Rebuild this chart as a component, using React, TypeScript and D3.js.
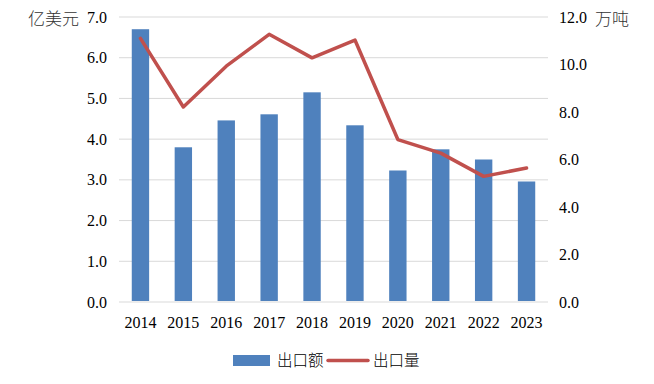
import React from "react";
import * as d3 from "d3";

const years = ["2014", "2015", "2016", "2017", "2018", "2019", "2020", "2021", "2022", "2023"];
const exportValue = [6.7, 3.8, 4.46, 4.61, 5.15, 4.34, 3.23, 3.75, 3.5, 2.96];
const exportVolume = [11.1, 8.21, 9.93, 11.27, 10.28, 11.03, 6.84, 6.27, 5.29, 5.64];
const leftTicks = [0, 1, 2, 3, 4, 5, 6, 7];
const rightTicks = [0, 2, 4, 6, 8, 10, 12];
const seriesNames = ["出口额", "出口量"];
const leftUnit = "亿美元";
const rightUnit = "万吨";

const W = 654;
const H = 384;
const plot = { left: 119, right: 548, top: 17, bottom: 302 };
const FONT = "'Liberation Serif', 'Times New Roman', 'Noto Sans CJK SC', serif";
const CJK = "'Noto Sans CJK SC', 'Liberation Serif', serif";
const BAR = "#4F81BD";
const LINE = "#C0504D";

export default function App() {
  const band = d3.scaleBand<string>().domain(years).range([plot.left, plot.right]);
  const yL = d3.scaleLinear().domain([0, 7]).range([plot.bottom, plot.top]);
  const yR = d3.scaleLinear().domain([0, 12]).range([plot.bottom, plot.top]);
  const cx = (y: string) => (band(y) as number) + band.bandwidth() / 2;
  const bw = band.bandwidth() * 0.405;
  const line = d3
    .line<number>()
    .x((_, i) => cx(years[i]))
    .y((d) => yR(d));

  return (
    <svg width={W} height={H} style={{ position: "absolute", left: 0, top: 0, background: "#fff" }}>
      {leftTicks.map((t) => (
        <line key={"g" + t} x1={plot.left} x2={plot.right} y1={yL(t)} y2={yL(t)} stroke="#D9D9D9" strokeWidth={1} />
      ))}
      {leftTicks.map((t) => (
        <text key={"l" + t} x={107} y={yL(t)} dy="0.35em" textAnchor="end" fontFamily={FONT} fontSize={16} fill="#000">
          {t.toFixed(1)}
        </text>
      ))}
      {rightTicks.map((t) => (
        <text key={"r" + t} x={559} y={yR(t)} dy="0.35em" textAnchor="start" fontFamily={FONT} fontSize={16} fill="#000">
          {t.toFixed(1)}
        </text>
      ))}
      <text x={28} y={19} dy="0.35em" fontFamily={CJK} fontWeight={300} fontSize={17} fill="#333">
        {leftUnit}
      </text>
      <text x={595} y={19} dy="0.35em" fontFamily={CJK} fontWeight={300} fontSize={17} fill="#333">
        {rightUnit}
      </text>
      {years.map((y, i) => (
        <rect key={"b" + y} x={cx(y) - bw / 2} y={yL(exportValue[i])} width={bw} height={yL(0) - 1 - yL(exportValue[i])} fill={BAR} />
      ))}
      <path d={line(exportVolume) || ""} fill="none" stroke={LINE} strokeWidth={3.5} strokeLinejoin="round" strokeLinecap="round" />
      {years.map((y) => (
        <text key={"x" + y} x={cx(y)} y={328} textAnchor="middle" fontFamily={FONT} fontSize={16} fill="#000">
          {y}
        </text>
      ))}
      <rect x={233} y={355} width={37} height={11} fill={BAR} />
      <text x={277} y={360.5} dy="0.35em" fontFamily={CJK} fontWeight={300} fontSize={15.5} fill="#000">
        {seriesNames[0]}
      </text>
      <line x1={328} x2={368} y1={360.5} y2={360.5} stroke={LINE} strokeWidth={3.5} strokeLinecap="round" />
      <text x={373} y={360.5} dy="0.35em" fontFamily={CJK} fontWeight={300} fontSize={15.5} fill="#000">
        {seriesNames[1]}
      </text>
    </svg>
  );
}
